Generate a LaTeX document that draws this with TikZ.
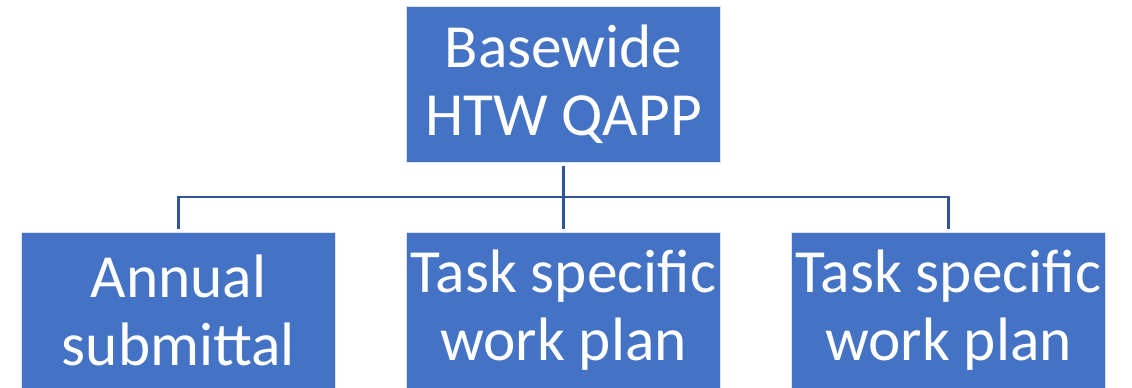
\documentclass[tikz,border=0pt]{standalone}
\usepackage{fontspec}
\setmainfont{Carlito}
\definecolor{boxblue}{HTML}{4472C4}
\definecolor{linkblue}{HTML}{2F5597}
\tikzset{
  planbox/.style={rectangle, fill=boxblue, draw=white!80!boxblue, line width=0.6pt,
    minimum width=236pt, minimum height=117pt, inner sep=0pt, text=white,
    align=center, font=\fontsize{46}{51}\selectfont},
  link/.style={draw=linkblue, line width=1.6pt}
}
\begin{document}
\begin{tikzpicture}[x=0.75pt, y=-0.75pt]
    \useasboundingbox (0, 0) rectangle (1132, 388);
    \node[planbox] (qapp) at (563.5, 84) {Basewide\\HTW QAPP};
    \node[planbox] (annual) at (178.5, 310) {Annual\\submittal};
    \node[planbox] (task1) at (563.5, 310) {Task specific\\work plan};
    \node[planbox] (task2) at (948.5, 310) {Task specific\\work plan};
    \coordinate (bar) at (563.5, 197);
    \draw[link, shorten <=3pt, shorten >=2pt] (qapp) -- (task1);
    \draw[link, shorten >=2pt] (bar) -| (annual);
    \draw[link, shorten >=2pt] (bar) -| (task2);
\end{tikzpicture}
\end{document}
